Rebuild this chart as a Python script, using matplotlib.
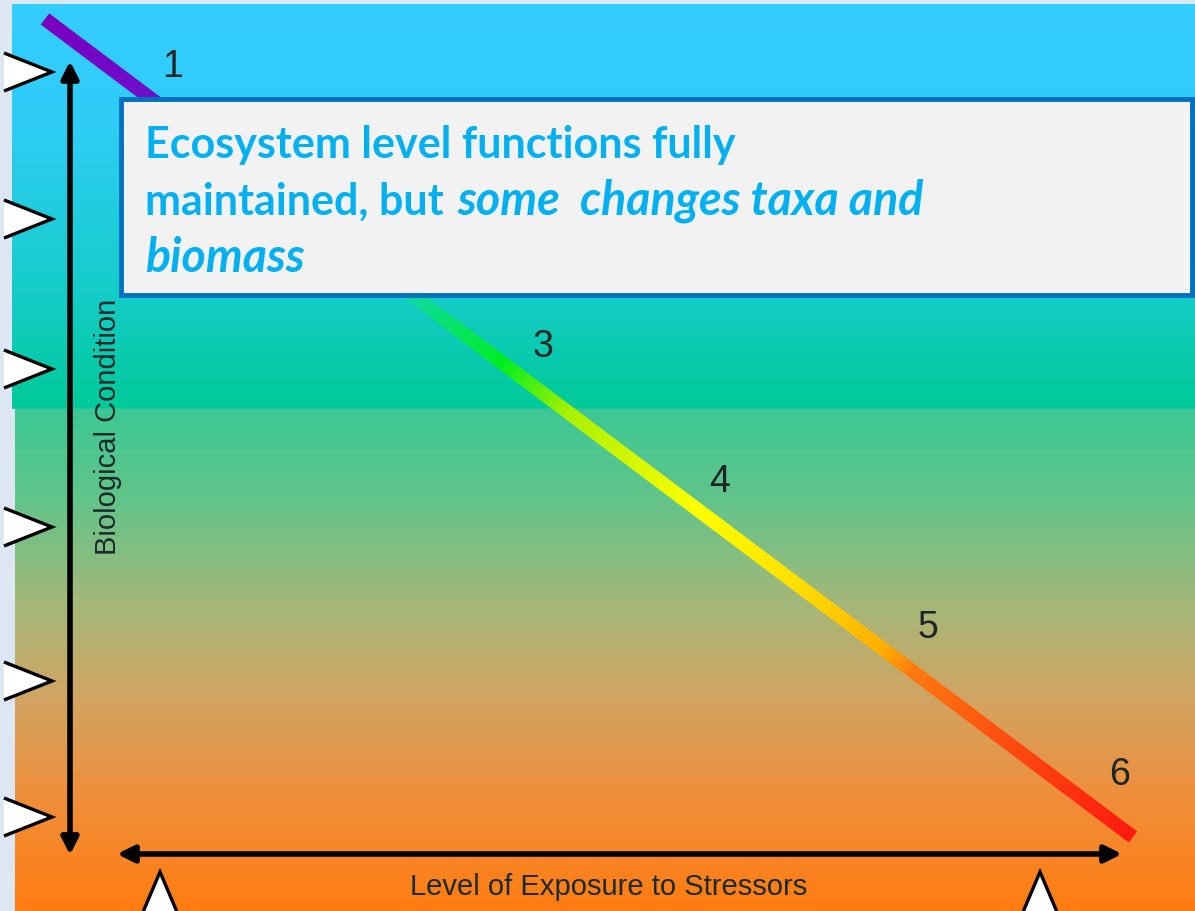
import numpy as np
import matplotlib.pyplot as plt
from matplotlib.colors import LinearSegmentedColormap, to_rgb
from matplotlib.patches import Polygon, Rectangle

# diagram data: stress gradient from stage 1 (top left) to stage 6 (bottom right)
line_start = (45, 20)
line_end = (1133, 838)
stage_labels = ["1", "3", "4", "5", "6"]
stage_x = [173, 543, 720, 928, 1120]
stage_y = [67, 347, 482, 628, 775]
left_marks_y = [73, 220, 370, 528, 682, 818]
bottom_marks_x = [160, 1040]
y_label = "Biological Condition"
x_label = "Level of Exposure to Stressors"
note_line1 = "Ecosystem level functions fully"
note_line2a = "maintained, but "
note_line2b = "some  changes taxa and"
note_line3 = "biomass"

W, H = 1195, 912
fig = plt.figure(figsize=(W / 100, H / 100), dpi=100)
ax = fig.add_axes([0, 0, 1, 1])
ax.set_xlim(0, W)
ax.set_ylim(H, 0)
ax.axis("off")

# background: blue->teal panel on top, green->orange below, light page strip on the left
bg_stops = [(0, "#34CCFF"), (120, "#30CCF8"), (300, "#14CCC6"), (408, "#00CA98"),
            (410, "#3CC894"), (500, "#62C48A"), (600, "#A2B87A"), (700, "#D2A462"),
            (800, "#F08E3A"), (912, "#FF7C10")]
rows = np.arange(H)
ys = [s[0] for s in bg_stops]
cols = np.array([to_rgb(s[1]) for s in bg_stops])
grad = np.stack([np.interp(rows, ys, cols[:, k]) for k in range(3)], axis=-1)
img = np.repeat(grad[:, None, :], 2, axis=1)
ax.imshow(img, extent=(0, W, H, 0), aspect="auto", zorder=0)
ax.add_patch(Rectangle((0, 0), 12, 410, color="#DDE7F3", zorder=1, lw=0))
ax.add_patch(Rectangle((0, 410), 15, H - 410, color="#DDE7F3", zorder=1, lw=0))
ax.add_patch(Rectangle((0, 0), W, 5, color="#DDE7F3", zorder=1, lw=0))

# rainbow band: gradient image clipped to the band outline
line_cmap = LinearSegmentedColormap.from_list("stress", [
    (0.0, "#7A00C0"), (0.12, "#6A14D0"), (0.25, "#1070E8"), (0.33, "#10D8B0"),
    (0.42, "#00EE22"), (0.48, "#A8F000"), (0.6, "#FFFF00"), (0.69, "#FFE000"),
    (0.77, "#FFB000"), (0.8, "#FF7A10"), (0.88, "#FF5010"), (1.0, "#FF1A10")])
x0, y0 = line_start
x1, y1 = line_end
dx, dy = x1 - x0, y1 - y0
length = np.hypot(dx, dy)
half = 7.0
nx, ny = -dy / length * half, dx / length * half
band = Polygon([(x0 + nx, y0 + ny), (x1 + nx, y1 + ny), (x1 - nx, y1 - ny), (x0 - nx, y0 - ny)],
               closed=True, transform=ax.transData)
gx, gy = np.meshgrid(np.linspace(0, W, 600), np.linspace(0, H, 460))
tt = np.clip(((gx - x0) * dx + (gy - y0) * dy) / length ** 2, 0, 1)
band_img = ax.imshow(tt, extent=(0, W, H, 0), cmap=line_cmap, vmin=0, vmax=1,
                     aspect="auto", zorder=3, interpolation="bilinear")
band_img.set_clip_path(band)

for lab, x, y in zip(stage_labels, stage_x, stage_y):
    ax.text(x, y, lab, fontsize=27, family="Liberation Sans", color="#1C2626",
            ha="center", va="center", zorder=2)

# axis arrows
arrow = dict(arrowstyle="<|-|>,head_length=1.0,head_width=0.5", color="black", lw=4,
             shrinkA=0, shrinkB=0)
ax.annotate("", xy=(70, 62), xytext=(70, 856), arrowprops=arrow, zorder=4)
ax.annotate("", xy=(117, 855), xytext=(1122, 855), arrowprops=arrow, zorder=4)
ax.text(108, 427, y_label, rotation=90, fontsize=21, family="Liberation Sans",
        color="#1E2A2A", ha="center", va="center", zorder=4)
ax.text(609, 887, x_label, fontsize=21, family="Liberation Sans",
        color="#1E2A2A", ha="center", va="center", zorder=4)

# white level markers
for y in left_marks_y:
    ax.add_patch(Polygon([(4, y - 19), (52, y), (4, y + 19)], closed=False,
                         fc="white", ec="black", lw=2.4, zorder=4))
for x in bottom_marks_x:
    ax.add_patch(Polygon([(x - 20, 920), (x, 873), (x + 20, 920)], closed=False,
                         fc="white", ec="black", lw=2.4, zorder=4))

# note box
ax.add_patch(Rectangle((121, 100), 1071, 196, fc="#F2F2F2", ec="#0070C0", lw=3.5, zorder=5))
txt = dict(family="Lato", color="#00B0F0", va="baseline", zorder=6, fontweight="bold")
ax.text(145, 158, note_line1, fontsize=31, **txt)
t2 = ax.text(145, 215, note_line2a, fontsize=31, **txt)
ax.text(145, 272, note_line3, fontsize=33.5, style="italic", **txt)
fig.canvas.draw()
bb = t2.get_window_extent()
x_end = ax.transData.inverted().transform((bb.x1, bb.y0))[0]
ax.text(x_end + 3, 215, note_line2b, fontsize=33.5, style="italic", **txt)

fig.savefig("out.png", dpi=100)
